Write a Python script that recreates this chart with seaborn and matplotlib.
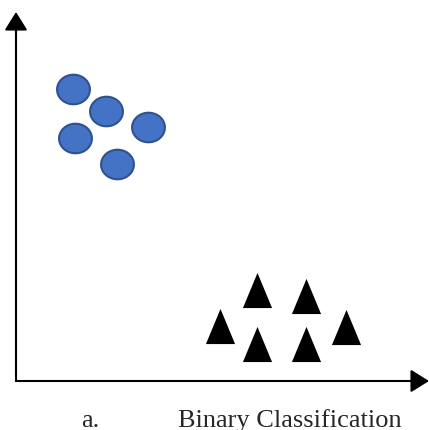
import numpy as np
import pandas as pd
import matplotlib
matplotlib.use("Agg")
import matplotlib.pyplot as plt
import seaborn as sns
from matplotlib.path import Path

# class A: blue circles, class B: black triangles (positions relative to the axis origin)
circle_x = [57, 90, 132, 59, 101]
circle_y = [292, 270, 254, 243, 217]
triangle_x = [241, 290, 204, 241, 290, 330]
triangle_y = [91, 85, 55, 37, 37, 54]

caption_label = "a."
caption_text = "Binary Classification"

sns.set_style("white")
plt.rcParams["font.family"] = ["Liberation Serif", "DejaVu Serif"]

fig = plt.figure(figsize=(4.29, 4.30), dpi=100)
ax = fig.add_axes([0, 0, 1, 1])
ax.set_xlim(-16, 413)
ax.set_ylim(-49, 381)
ax.axis("off")

# ellipse marker a bit wider than tall, narrow triangle marker
t = np.linspace(0, 2 * np.pi, 60)
ellipse = Path(np.column_stack([np.cos(t), 0.9 * np.sin(t)]), closed=True)
tri = Path([(-0.83, -1), (0.83, -1), (0, 1), (-0.83, -1)], closed=True)

circles = pd.DataFrame({"x": circle_x, "y": circle_y})
triangles = pd.DataFrame({"x": triangle_x, "y": triangle_y})

sns.scatterplot(data=circles, x="x", y="y", ax=ax, marker=ellipse, s=560,
                color="#4472C4", edgecolor="#2F528F", linewidth=1.5, zorder=3)
sns.scatterplot(data=triangles, x="x", y="y", ax=ax, marker=tri, s=640,
                color="black", edgecolor="black", linewidth=0, zorder=3)

arrow = dict(arrowstyle="-|>,head_length=0.4,head_width=0.25", mutation_scale=28,
             lw=1.5, color="black", shrinkA=0, shrinkB=0)
ax.annotate("", xy=(0, 369), xytext=(0, 0), arrowprops=arrow)
ax.annotate("", xy=(413, 0), xytext=(0, 0), arrowprops=arrow)

fig.text(90 / 429, 3 / 430, caption_label, ha="center", va="baseline", fontsize=19)
fig.text(290 / 429, 3 / 430, caption_text, ha="center", va="baseline", fontsize=19)

fig.savefig("out.png", dpi=100)
